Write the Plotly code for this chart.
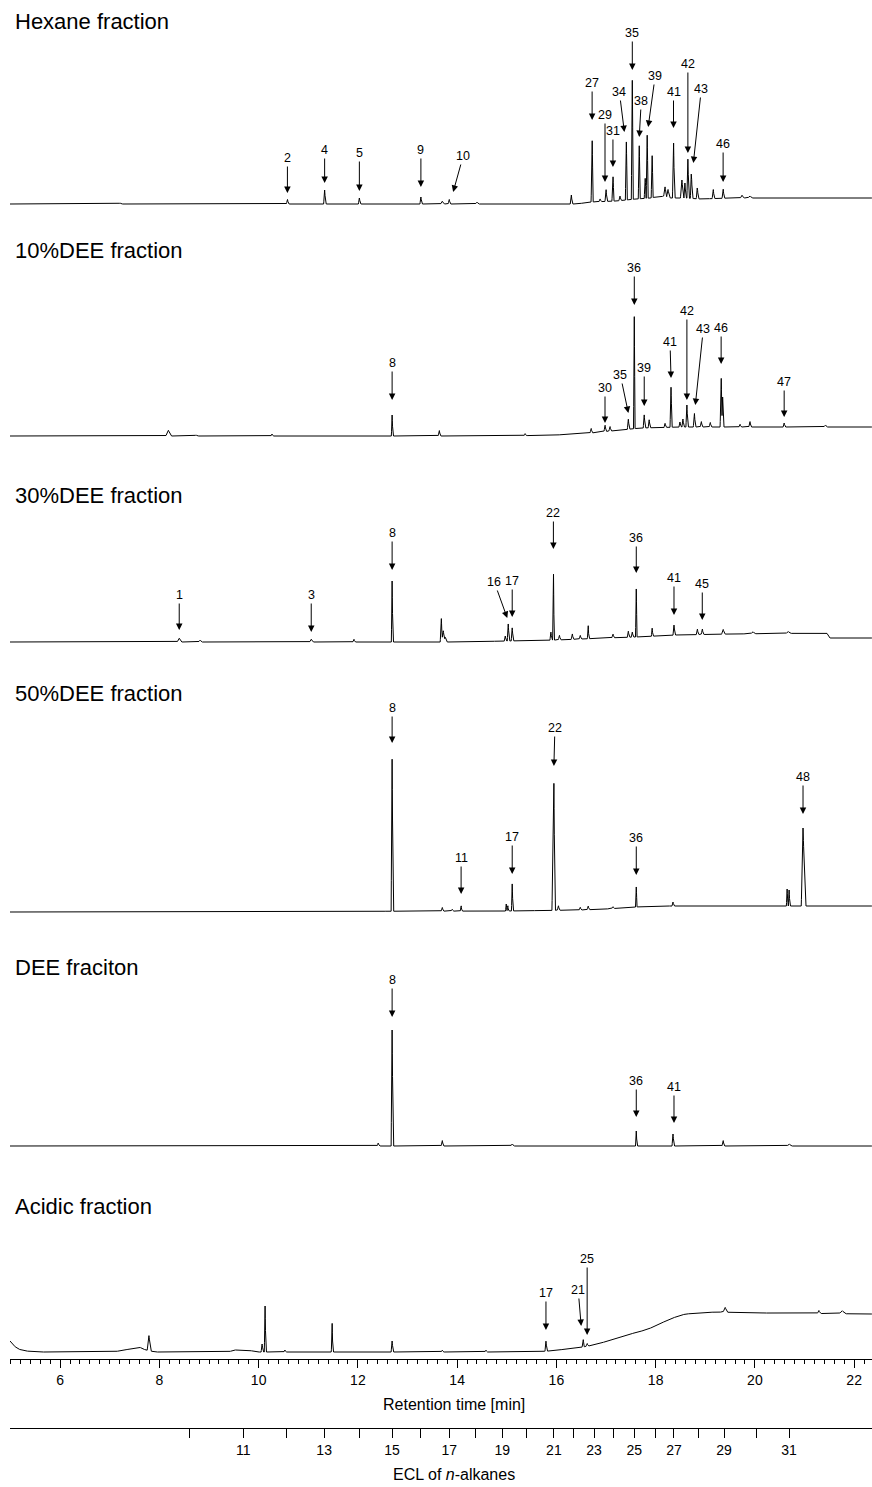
import numpy as np
import plotly.graph_objects as go

# ------------------------------------------------------------------ data
RT_RANGE = [4.99, 22.36]
rt_major_ticks = [6, 8, 10, 12, 14, 16, 18, 20, 22]
ecl_numbers = list(range(10, 32))
ecl_rt = [8.60, 9.69, 10.57, 11.32, 12.03, 12.69, 13.27, 13.84, 14.38, 14.91, 15.39,
          15.95, 16.34, 16.76, 17.16, 17.57, 17.99, 18.37, 18.86, 19.38, 20.03, 20.69]

panel_names = ["Hexane fraction", "10%DEE fraction", "30%DEE fraction",
               "50%DEE fraction", "DEE fraciton", "Acidic fraction"]

# --- Hexane fraction
hex_base_rt = [4.99, 16.4, 16.7, 17.2, 17.6, 17.9, 18.1, 18.3, 18.6, 18.9, 19.5, 22.36]
hex_base_int = [0, 0, 2, 3, 5, 6, 8, 6, 6, 5, 6, 6]
hex_peak_rt = [7.21, 10.58, 11.33, 12.03, 13.27, 13.70, 13.84, 14.40, 16.30, 16.72, 16.88,
               17.00, 17.14, 17.28, 17.41, 17.53, 17.67, 17.79, 17.83, 17.93, 18.19, 18.25,
               18.36, 18.53, 18.59, 18.65, 18.72, 18.84, 19.16, 19.36, 19.74, 19.90]
hex_peak_int = [1, 5, 14, 6, 7, 3, 5, 2, 10, 68, 3, 13, 27, 5, 58, 119, 53, 20, 63, 42, 10, 8,
                61, 18, 15, 39, 27, 12, 10, 10, 3, 2]
hex_peak_wid = [0.03, 0.02, 0.02, 0.02, 0.02, 0.03, 0.02, 0.03, 0.02, 0.02, 0.02,
                0.02, 0.02, 0.02, 0.02, 0.02, 0.02, 0.02, 0.02, 0.02, 0.03, 0.03,
                0.02, 0.03, 0.02, 0.02, 0.02, 0.02, 0.02, 0.02, 0.03, 0.04]
hex_labels = ["2", "4", "5", "9", "10", "27", "29", "31", "34", "35", "38", "39", "41", "42", "43", "46"]
hex_label_rt = [10.58, 11.33, 12.03, 13.27, 13.92, 16.72, 16.98, 17.14, 17.37, 17.53, 17.67,
                17.85, 18.36, 18.65, 18.76, 19.36]

# --- 10%DEE fraction
d10_base_rt = [4.99, 15.0, 16.0, 16.7, 17.3, 17.7, 18.5, 22.36]
d10_base_int = [0, 0, 1, 3, 6, 8, 9, 9]
d10_peak_rt = [8.18, 8.74, 10.27, 12.69, 13.64, 15.37, 16.70, 16.98, 17.08, 17.45, 17.57,
               17.77, 17.87, 18.19, 18.31, 18.49, 18.55, 18.63, 18.78, 18.92, 19.10, 19.32,
               19.35, 19.70, 19.90, 20.59, 21.42]
d10_peak_int = [6, 1, 2, 21, 6, 2, 5, 7, 5, 10, 112, 13, 8, 4, 40, 5, 8, 22, 15, 6, 5, 54,
                30, 3, 6, 4, 2]
d10_peak_wid = [0.05, 0.03, 0.02, 0.015, 0.02, 0.02, 0.02, 0.02, 0.02, 0.02, 0.015,
                0.02, 0.02, 0.02, 0.02, 0.02, 0.02, 0.02, 0.02, 0.02, 0.02, 0.02,
                0.015, 0.02, 0.02, 0.02, 0.03]
d10_labels = ["8", "30", "35", "36", "39", "41", "42", "43", "46", "47"]
d10_label_rt = [12.69, 16.98, 17.45, 17.57, 17.77, 18.31, 18.63, 18.80, 19.32, 20.59]

# --- 30%DEE fraction
d30_base_rt = [4.99, 14.0, 15.0, 16.0, 17.0, 17.6, 18.4, 19.5, 21.45, 21.5, 22.36]
d30_base_int = [0, 0, 1, 2, 4, 5, 7, 8, 9, 4, 4]
d30_peak_rt = [8.40, 8.82, 11.06, 11.92, 12.69, 13.68, 13.72, 13.76, 14.97, 15.03, 15.11,
               15.89, 15.94, 16.06, 16.32, 16.48, 16.64, 17.14, 17.45, 17.53, 17.61, 17.93,
               18.37, 18.84, 18.94, 19.36, 19.96, 20.67]
d30_peak_int = [4, 2, 3, 3, 61, 26, 12, 5, 5, 17, 13, 8, 76, 5, 6, 4, 15, 4, 6, 5, 48, 8,
                10, 6, 6, 5, 2, 2]
d30_peak_wid = [0.04, 0.03, 0.03, 0.02, 0.015, 0.02, 0.03, 0.03, 0.02, 0.02, 0.02,
                0.02, 0.015, 0.02, 0.02, 0.02, 0.015, 0.02, 0.02, 0.02, 0.015, 0.015,
                0.02, 0.02, 0.02, 0.03, 0.04, 0.04]
d30_labels = ["1", "3", "8", "16", "17", "22", "36", "41", "45"]
d30_label_rt = [8.40, 11.06, 12.69, 15.01, 15.11, 15.94, 17.61, 18.37, 18.94]

# --- 50%DEE fraction
d50_base_rt = [4.99, 15.0, 16.5, 17.0, 17.6, 18.0, 22.36]
d50_base_int = [0, 1, 2, 3, 5, 6, 6]
d50_peak_rt = [12.69, 13.70, 13.90, 14.08, 14.99, 15.02, 15.11, 15.93, 15.95, 16.04, 16.48,
               16.64, 17.14, 17.61, 18.35, 20.65, 20.69, 20.97, 21.00]
d50_peak_int = [152, 4, 2, 6, 7, 6, 27, 50, 127, 5, 3, 4, 2, 20, 4, 17, 16, 78, 20]
d50_peak_wid = [0.02, 0.02, 0.02, 0.015, 0.015, 0.015, 0.015, 0.02, 0.02, 0.02, 0.02,
                0.02, 0.02, 0.015, 0.02, 0.015, 0.015, 0.035, 0.03]
d50_labels = ["8", "11", "17", "22", "36", "48"]
d50_label_rt = [12.69, 14.08, 15.11, 15.95, 17.61, 20.97]

# --- DEE fraction
dee_base_rt = [4.99, 22.36]
dee_base_int = [0, 0]
dee_peak_rt = [12.41, 12.69, 13.70, 15.11, 17.61, 18.35, 19.36, 20.69]
dee_peak_int = [3, 116, 6, 2, 15, 12, 6, 2]
dee_peak_wid = [0.02, 0.02, 0.02, 0.03, 0.015, 0.02, 0.02, 0.04]
dee_labels = ["8", "36", "41"]
dee_label_rt = [12.69, 17.61, 18.37]

# --- Acidic fraction
acid_base_rt = [4.99, 5.05, 5.15, 5.3, 5.6, 7.0, 7.2, 7.5, 7.6, 7.66, 7.9, 9.4, 9.49, 9.79,
                9.95, 15.5, 15.85, 16.4, 16.65, 16.9, 17.1, 17.35, 17.56, 17.8, 18.0, 18.2,
                18.4, 18.6, 18.9, 19.2, 20.2, 22.36]
acid_base_int = [12, 8, 4, 2, 1, 1, 2, 5, 6, 4, 1, 1, 3, 3, 1, 1, 2, 5, 7, 10, 13, 16, 20,
                 23, 27, 32, 36, 39, 40, 41, 40, 39]
acid_peak_rt = [7.79, 10.07, 10.13, 10.53, 11.48, 12.69, 13.70, 14.58, 15.79, 16.54, 16.62,
                19.40, 21.29, 21.76]
acid_peak_int = [15, 8, 46, 2, 33, 11, 2, 2, 10, 8, 3, 5, 3, 3]
acid_peak_wid = [0.035, 0.02, 0.015, 0.02, 0.015, 0.02, 0.02, 0.02, 0.02, 0.02, 0.02,
                 0.04, 0.03, 0.06]
acid_labels = ["17", "21", "25"]
acid_label_rt = [15.79, 16.50, 16.62]

# ------------------------------------------------------------------ layout / styling
W, H = 872, 1487
X_LEFT = 10
panel_baseline_px = [204, 436, 642, 912, 1146, 1353]
panel_title_px = [21, 251, 496, 693, 968, 1206]

# annotation geometry per label: (arrow tip height above baseline in px, label dx, label dy)
hex_label_geom = [(11, 0, -35), (21, 0, -33), (13, 0, -38), (17, 0, -37), (12, 10, -36),
                  (84, 0, -37), (22, 0, -67), (37, 0, -36), (72, -5, -40), (134, 0, -37),
                  (67, 2, -36), (77, 7, -51), (76, 0, -36), (51, 0, -89), (41, 8, -74),
                  (22, 0, -38)]
d10_label_geom = [(36, 0, -37), (13, 0, -35), (23, -8, -38), (131, 0, -37), (30, 0, -38),
                  (58, -1, -36), (36, 0, -89), (31, 8, -76), (72, 0, -36), (19, 0, -35)]
d30_label_geom = [(12, 0, -35), (10, 0, -37), (72, 0, -37), (24, -13, -36), (25, 0, -36),
                  (93, 0, -36), (69, 0, -35), (27, 0, -37), (22, 0, -36)]
d50_label_geom = [(169, 0, -35), (18, 0, -36), (38, 0, -37), (146, 1, -38), (37, 0, -37),
                  (98, 0, -37)]
dee_label_geom = [(129, 0, -37), (29, 0, -36), (23, 0, -36)]
acid_label_geom = [(23, 0, -37), (27, -3, -36), (18, 0, -76)]

FONT = "Liberation Sans, Arial, sans-serif"

panels = [
    (hex_base_rt, hex_base_int, hex_peak_rt, hex_peak_int, hex_peak_wid, hex_labels, hex_label_rt, hex_label_geom),
    (d10_base_rt, d10_base_int, d10_peak_rt, d10_peak_int, d10_peak_wid, d10_labels, d10_label_rt, d10_label_geom),
    (d30_base_rt, d30_base_int, d30_peak_rt, d30_peak_int, d30_peak_wid, d30_labels, d30_label_rt, d30_label_geom),
    (d50_base_rt, d50_base_int, d50_peak_rt, d50_peak_int, d50_peak_wid, d50_labels, d50_label_rt, d50_label_geom),
    (dee_base_rt, dee_base_int, dee_peak_rt, dee_peak_int, dee_peak_wid, dee_labels, dee_label_rt, dee_label_geom),
    (acid_base_rt, acid_base_int, acid_peak_rt, acid_peak_int, acid_peak_wid, acid_labels, acid_label_rt, acid_label_geom),
]

grid = np.arange(RT_RANGE[0], RT_RANGE[1] + 1e-9, 0.004)


def chromatogram(base_rt, base_int, peak_rt, peak_int, peak_wid):
    y = np.interp(grid, base_rt, base_int).astype(float)
    for t, h, w in zip(peak_rt, peak_int, peak_wid):
        y += h * np.clip(1.0 - np.abs(grid - t) / w, 0.0, None)
    return y


def frac(px):
    """pixel row -> paper fraction"""
    return 1.0 - px / H


def xfrac(px):
    """pixel column -> paper fraction"""
    return px / W


fig = go.Figure()
annotations = []
layout_axes = {}
BOT_PAD, TOP_SPAN = 6, 180

for i, (brt, bint, prt, pint, pwid, labs, lrt, lgeom) in enumerate(panels):
    n = i + 1
    yname = "y" if n == 1 else f"y{n}"
    ykey = "yaxis" if n == 1 else f"yaxis{n}"
    y0 = panel_baseline_px[i]
    fig.add_trace(go.Scatter(
        x=grid, y=chromatogram(brt, bint, prt, pint, pwid), mode="lines",
        line=dict(color="black", width=1), xaxis="x", yaxis=yname,
        showlegend=False, hoverinfo="skip"))
    layout_axes[ykey] = dict(domain=[frac(y0 + BOT_PAD), frac(y0 - TOP_SPAN)],
                             range=[-BOT_PAD, TOP_SPAN], visible=False, anchor="x",
                             fixedrange=True)
    annotations.append(dict(text=panel_names[i], xref="paper", yref="paper",
                            x=xfrac(13), y=frac(panel_title_px[i]), xanchor="left",
                            yanchor="middle", showarrow=False,
                            font=dict(family=FONT, size=22, color="black")))
    for lab, t, (tip, dx, dy) in zip(labs, lrt, lgeom):
        annotations.append(dict(text=lab, x=t, y=tip, xref="x", yref=yname,
                                ax=dx, ay=dy, showarrow=True, arrowhead=2,
                                arrowsize=1.3, arrowwidth=1, arrowcolor="black",
                                standoff=0, font=dict(family=FONT, size=12.5, color="black")))

# dummy trace for ECL axis
fig.add_trace(go.Scatter(x=[None], y=[None], xaxis="x2", yaxis="y6", showlegend=False,
                         hoverinfo="skip"))

annotations.append(dict(text="Retention time [min]", xref="paper", yref="paper",
                        x=xfrac(454), y=frac(1404), xanchor="center", yanchor="middle",
                        showarrow=False, font=dict(family=FONT, size=16, color="black")))
annotations.append(dict(text="ECL of <i>n</i>-alkanes", xref="paper", yref="paper",
                        x=xfrac(454), y=frac(1474), xanchor="center", yanchor="middle",
                        showarrow=False, font=dict(family=FONT, size=16, color="black")))

fig.update_layout(
    width=W, height=H,
    margin=dict(l=0, r=0, t=0, b=0),
    paper_bgcolor="white", plot_bgcolor="white",
    showlegend=False,
    xaxis=dict(domain=[xfrac(X_LEFT), 1.0], range=RT_RANGE, anchor="free",
               position=frac(1359), showline=True, linecolor="black", linewidth=1,
               ticks="outside", ticklen=8, tickwidth=1, tickcolor="black",
               tickmode="linear", tick0=6, dtick=2,
               tickfont=dict(family=FONT, size=14, color="black"),
               showgrid=False, zeroline=False, fixedrange=True, automargin=False,
               minor=dict(ticks="outside", ticklen=4, tickwidth=1, tickcolor="black",
                          dtick=0.2, tick0=6, showgrid=False)),
    xaxis2=dict(domain=[xfrac(X_LEFT), 1.0], range=RT_RANGE, anchor="free", overlaying="x",
                position=frac(1428), showline=True, linecolor="black", linewidth=1,
                ticks="outside", ticklen=9, tickwidth=1, tickcolor="black",
                tickmode="array", tickvals=ecl_rt,
                ticktext=[str(v) if v % 2 else "" for v in ecl_numbers],
                tickfont=dict(family=FONT, size=14, color="black"),
                showgrid=False, zeroline=False, fixedrange=True, automargin=False),
    annotations=annotations,
    **layout_axes,
)

fig.write_html("out.html",
               config={"displayModeBar": False},
               post_script="document.body.style.margin='0px';"
                           "document.body.style.overflow='hidden';")
